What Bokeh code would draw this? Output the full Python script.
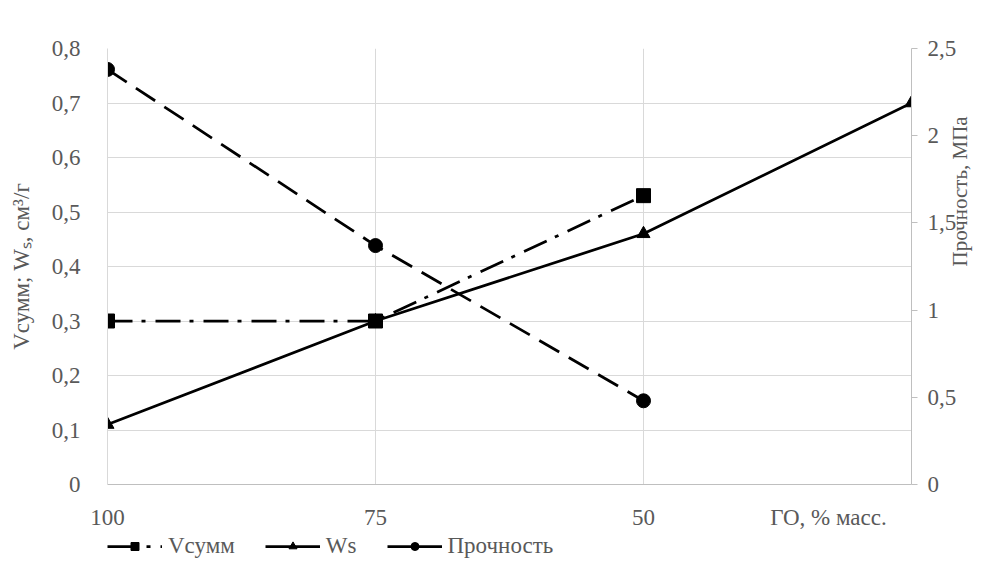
import math
from bokeh.plotting import figure
from bokeh.layouts import column
from bokeh.models import Range1d, LinearAxis, FixedTicker, Legend, LegendItem
from bokeh.embed import file_html
from bokeh.resources import INLINE

# ---- data ----
x_labels = ["100", "75", "50", ""]
x_title = "ГО, % масс."
v_summ = [0.3, 0.3, 0.53]
ws = [0.11, 0.3, 0.46, 0.7]
strength = [2.38, 1.37, 0.48]
left_ticks = [0, 0.1, 0.2, 0.3, 0.4, 0.5, 0.6, 0.7, 0.8]
left_tick_labels = ["0", "0,1", "0,2", "0,3", "0,4", "0,5", "0,6", "0,7", "0,8"]
right_ticks = [0, 0.5, 1, 1.5, 2, 2.5]
right_tick_labels = ["0", "0,5", "1", "1,5", "2", "2,5"]
series_names = ["Vсумм", "Ws", "Прочность"]

x_idx = list(range(len(x_labels)))
x_title_pos = 2.69

FONT = "Liberation Serif"
TXT = "#595959"
GRID = "#d9d9d9"
AXIS = "#bfbfbf"
FS = "23px"
LW = 2.75

p = figure(width=987, height=532, output_backend="svg", toolbar_location=None,
           x_range=Range1d(x_idx[0], x_idx[-1]),
           y_range=Range1d(left_ticks[0], left_ticks[-1]),
           min_border_left=107, min_border_top=48, min_border_right=74,
           min_border_bottom=42)
p.extra_y_ranges = {"right": Range1d(right_ticks[0], right_ticks[-1])}
p.outline_line_color = None
p.background_fill_color = "white"
p.border_fill_color = "white"

# x axis
xa = p.xaxis[0]
xa.ticker = FixedTicker(ticks=x_idx[:3] + [x_title_pos])
ov = {i: lab for i, lab in zip(x_idx[:3], x_labels[:3])}
ov[x_title_pos] = x_title
xa.major_label_overrides = ov
xa.axis_line_color = AXIS
xa.major_tick_line_color = None
xa.minor_tick_line_color = None
xa.major_label_standoff = 14
xa.major_label_text_font = FONT
xa.major_label_text_font_size = FS
xa.major_label_text_color = TXT

# left axis
ya = p.yaxis[0]
ya.ticker = FixedTicker(ticks=left_ticks)
ya.major_label_overrides = dict(zip(left_ticks, left_tick_labels))
ya.axis_line_color = GRID
ya.major_tick_line_color = None
ya.minor_tick_line_color = None
ya.major_label_standoff = 21
ya.major_label_text_font = FONT
ya.major_label_text_font_size = FS
ya.major_label_text_color = TXT
ya.axis_label = "Vсумм; Wₛ, см³/г"
ya.axis_label_text_font = FONT
ya.axis_label_text_font_size = FS
ya.axis_label_text_font_style = "normal"
ya.axis_label_text_color = TXT
ya.axis_label_standoff = 15

# right axis
ra = LinearAxis(y_range_name="right", ticker=FixedTicker(ticks=right_ticks))
ra.major_label_overrides = dict(zip(right_ticks, right_tick_labels))
ra.axis_line_color = AXIS
ra.major_tick_line_color = AXIS
ra.major_tick_out = 6
ra.major_tick_in = 0
ra.minor_tick_line_color = None
ra.major_label_standoff = 10
ra.major_label_text_font = FONT
ra.major_label_text_font_size = FS
ra.major_label_text_color = TXT
ra.axis_label = "Прочность, МПа"
ra.axis_label_text_font = FONT
ra.axis_label_text_font_size = "21px"
ra.axis_label_text_font_style = "normal"
ra.axis_label_text_color = TXT
ra.axis_label_standoff = 1
try:
    ra.axis_label_orientation = math.pi / 2
except Exception:
    pass
p.add_layout(ra, "right")

# grids
p.ygrid.ticker = FixedTicker(ticks=left_ticks)
p.ygrid.grid_line_color = GRID
p.xgrid.ticker = FixedTicker(ticks=x_idx[1:3])
p.xgrid.grid_line_color = GRID

# series styles
DASH_V = "25 9 4 10"
DASH_S = "23 11"

p.line(x_idx[:3], v_summ, line_color="black", line_width=LW, line_dash=DASH_V)
p.scatter(x_idx[:3], v_summ, marker="square", size=14, color="black")
p.line(x_idx, ws, line_color="black", line_width=LW)
p.scatter(x_idx, ws, marker="triangle", size=13, color="black")
p.line(x_idx[:3], strength, line_color="black", line_width=LW,
       line_dash=DASH_S, y_range_name="right")
p.scatter(x_idx[:3], strength, marker="circle", size=14, color="black",
          y_range_name="right")

# legend strip below the chart (its own renderers sit outside its visible ranges)
lf = figure(width=987, height=48, output_backend="svg", toolbar_location=None,
            x_range=Range1d(100, 101), y_range=Range1d(100, 101),
            x_axis_type=None, y_axis_type=None,
            min_border_left=0, min_border_right=0, min_border_top=0,
            min_border_bottom=0)
lf.outline_line_color = None
lf.xgrid.visible = False
lf.ygrid.visible = False
lg1 = lf.line(x_idx[:3], v_summ, line_color="black", line_width=LW, line_dash="30 9 4 10")
lm1 = lf.scatter(x_idx[:3], v_summ, marker="square", size=14, color="black")
lg2 = lf.line(x_idx, ws, line_color="black", line_width=LW)
lm2 = lf.scatter(x_idx, ws, marker="triangle", size=13, color="black")
lg3 = lf.line(x_idx[:3], strength, line_color="black", line_width=LW)
lm3 = lf.scatter(x_idx[:3], strength, marker="circle", size=14, color="black")

legend = Legend(items=[LegendItem(label=series_names[0], renderers=[lg1, lm1]),
                       LegendItem(label=series_names[1], renderers=[lg2, lm2]),
                       LegendItem(label=series_names[2], renderers=[lg3, lm3])],
                orientation="horizontal", location=(0, 21),
                glyph_width=55, glyph_height=20, label_standoff=6, spacing=30,
                padding=0, margin=0, border_line_color=None,
                background_fill_alpha=0,
                label_text_font=FONT, label_text_font_size=FS,
                label_text_color=TXT)
lf.add_layout(legend)

layout = column(p, lf, spacing=0)
open("out.html", "w").write(file_html(layout, INLINE))
